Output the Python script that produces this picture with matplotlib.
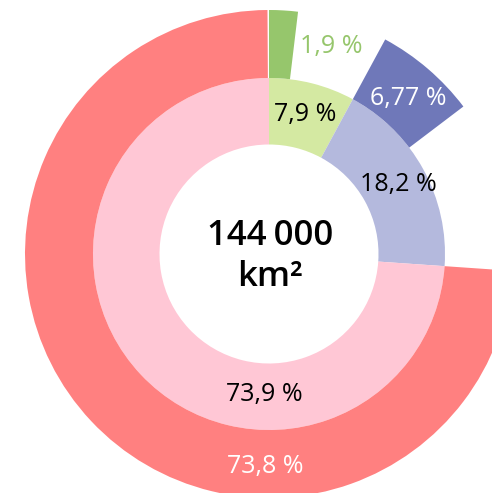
import matplotlib
matplotlib.use("Agg")
import matplotlib.pyplot as plt

# Data
inner_labels = ["7,9 %", "18,2 %", "73,9 %"]
inner_values = [7.9, 18.2, 73.9]
outer_labels = ["1,9 %", "6,77 %", "73,8 %"]
outer_values = [1.9, 6.77, 73.8]
center_lines = ["144\u2009000", "km²"]

inner_colors = ["#d4e9a2", "#b4b9dd", "#ffc7d5"]
outer_colors = ["#96c66c", "#6f78b9", "#ff8080"]

plt.rcParams['font.family'] = ['Open Sans', 'DejaVu Sans']

fig = plt.figure(figsize=(4.92, 4.93), dpi=100)
ax = fig.add_axes([0, 0, 1, 1])

r_hole, r_in, r_out = 109.5, 176, 244

ax.pie(inner_values, radius=r_in, colors=inner_colors, startangle=90,
       counterclock=False, wedgeprops=dict(width=r_in - r_hole, linewidth=0))

# outer ring: each outer segment starts where its matching inner segment starts
outer_seq = []
outer_cols = []
for i, (iv, ov) in enumerate(zip(inner_values, outer_values)):
    outer_seq += [ov, iv - ov]
    outer_cols += [outer_colors[i], "none"]
ax.pie(outer_seq, radius=r_out, colors=outer_cols, startangle=90,
       counterclock=False, wedgeprops=dict(width=r_out - r_in, linewidth=0))

ax.set_xlim(-269, 223)
ax.set_ylim(-239, 254)
ax.set_aspect("equal")
ax.axis("off")

fs = 18
fw = "medium"
ax.text(36, 139, inner_labels[0], ha="center", va="center", fontsize=fs, color="black", fontweight=fw)
ax.text(129, 70, inner_labels[1], ha="center", va="center", fontsize=fs, color="black", fontweight=fw)
ax.text(-5, -141, inner_labels[2], ha="center", va="center", fontsize=fs, color="black", fontweight=fw)
ax.text(62, 207, outer_labels[0], ha="center", va="center", fontsize=fs, color=outer_colors[0], fontweight=fw)
ax.text(139, 156, outer_labels[1], ha="center", va="center", fontsize=fs, color="white", fontweight=fw)
ax.text(-4, -213, outer_labels[2], ha="center", va="center", fontsize=fs, color="white", fontweight=fw)

ax.text(1, 18, center_lines[0], ha="center", va="center", fontsize=25, fontweight="semibold")
ax.text(1, -23, center_lines[1], ha="center", va="center", fontsize=25, fontweight="semibold")

fig.savefig("out.png", dpi=100)
